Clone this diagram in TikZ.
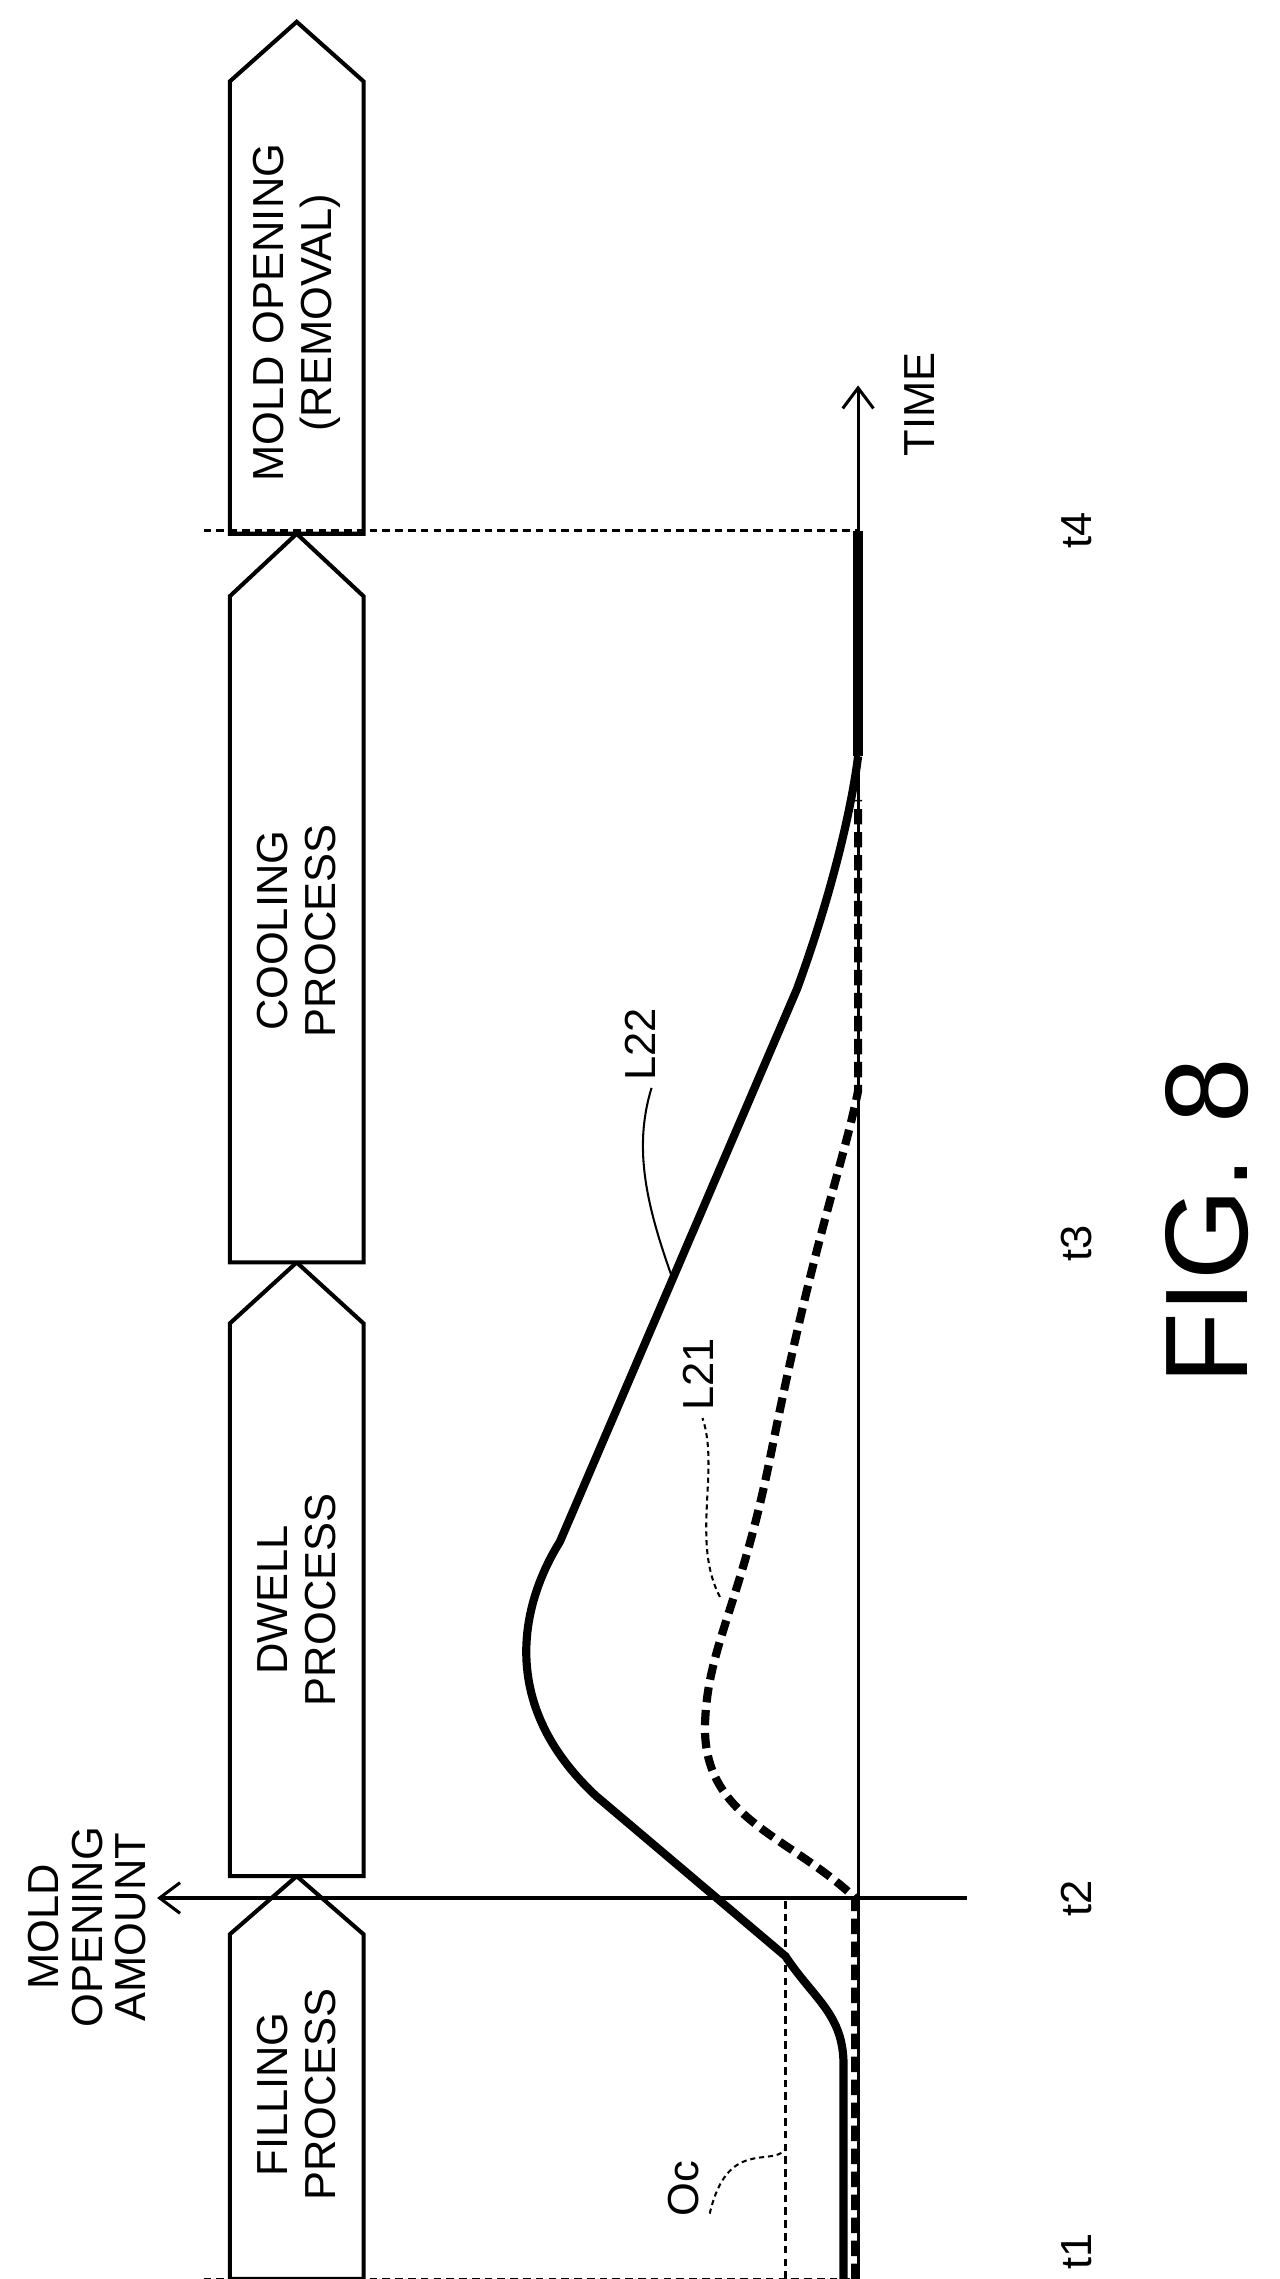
\documentclass[tikz,border=0pt]{standalone}
\usepackage{fontspec}
\setmainfont{Liberation Sans}
\usetikzlibrary{arrows.meta}
\begin{document}
\begin{tikzpicture}[x=0.02cm, y=-0.02cm, line width=1.2pt,
    procbox/.style={draw, line width=1.6pt, fill=white},
    proctext/.style={rotate=90, align=center, font=\fontsize{17}{19}\selectfont},
    tlabel/.style={rotate=90, font=\fontsize{17}{19}\selectfont},
    guide/.style={dash pattern=on 3pt off 2pt, line width=1.1pt},
    curve/.style={line width=3.2pt},
    every node/.style={inner sep=0pt}]
    \useasboundingbox (0,0) rectangle (880,1567);

    % Process arrows
    \draw [procbox] (158,1567) -- (158,1330) -- (204,1290) -- (250,1330) -- (250,1567) -- cycle;
    \draw [procbox] (158,1290) -- (158,910) -- (204,868) -- (250,910) -- (250,1290) -- cycle;
    \draw [procbox] (158,868) -- (158,410) -- (204,367) -- (250,410) -- (250,868) -- cycle;
    \draw [procbox] (158,367) -- (158,56) -- (204,15) -- (250,56) -- (250,367) -- cycle;
    \node [proctext] (filling) at (204,1440) {FILLING\\PROCESS};
    \node [proctext] (dwell) at (204,1100) {DWELL\\PROCESS};
    \node [proctext] (cooling) at (204,640) {COOLING\\PROCESS};
    \node [proctext] (mold) at (204,215) {MOLD OPENING\\(REMOVAL)};

    % Axes
    \coordinate (origin) at (590,1567);
    \coordinate (timetip) at (590,265);
    \coordinate (ampright) at (665,1305);
    \coordinate (amptip) at (108,1305);
    \draw [-{Straight Barb[length=8pt,width=12pt]}] (origin) -- (timetip);
    \draw [-{Straight Barb[length=8pt,width=12pt]}] (ampright) -- (amptip);
    \node [tlabel] (time) at (632,278) {TIME};
    \node [rotate=90, align=center, font=\fontsize{17}{17}\selectfont] (amount) at (60,1325) {MOLD\\OPENING\\AMOUNT};

    % Time marks
    \draw [guide] (140,1567) -- (590,1567);
    \draw [guide] (140,365) -- (590,365);
    \node [tlabel] (t1) at (740,1548) {t1};
    \node [tlabel] (t2) at (740,1305) {t2};
    \node [tlabel] (t3) at (740,855) {t3};
    \node [tlabel] (t4) at (740,365) {t4};

    % Oc level
    \draw [guide] (540,1567) -- (540,1305);
    \node [tlabel] (oc) at (470,1505) {Oc};
    \draw [dash pattern=on 2pt off 1.5pt, line width=0.8pt] (488,1522) .. controls (500,1470) and (530,1490) .. (540,1478);

    % L22
    \draw [curve] (580,1567) -- (580,1420) .. controls (580,1385) and (560,1375) .. (540,1345)
        -- (410,1235) .. controls (340,1170) and (360,1100) .. (385,1060)
        -- (548,680) .. controls (570,620) and (585,560) .. (590,520);
    \draw [line width=4pt] (590,520) -- (590,365);
    \node [tlabel] (l22) at (440,718) {L22};
    \draw [line width=0.8pt] (462,878) .. controls (445,830) and (435,790) .. (448,748);

    % L21
    \draw [curve, dash pattern=on 6pt off 3pt] (588,1567) -- (588,1305)
        .. controls (540,1260) and (480,1250) .. (485,1180)
        .. controls (488,1130) and (510,1100) .. (530,1000)
        .. controls (560,850) and (580,800) .. (590,750) -- (590,550);
    \node [tlabel] (l21) at (480,945) {L21};
    \draw [dash pattern=on 2pt off 1.5pt, line width=0.8pt] (495,1098) .. controls (475,1060) and (495,1010) .. (483,975);

    \node [rotate=90, font=\fontsize{46}{46}\selectfont] (fig) at (830,840) {FIG. 8};
\end{tikzpicture}
\end{document}
